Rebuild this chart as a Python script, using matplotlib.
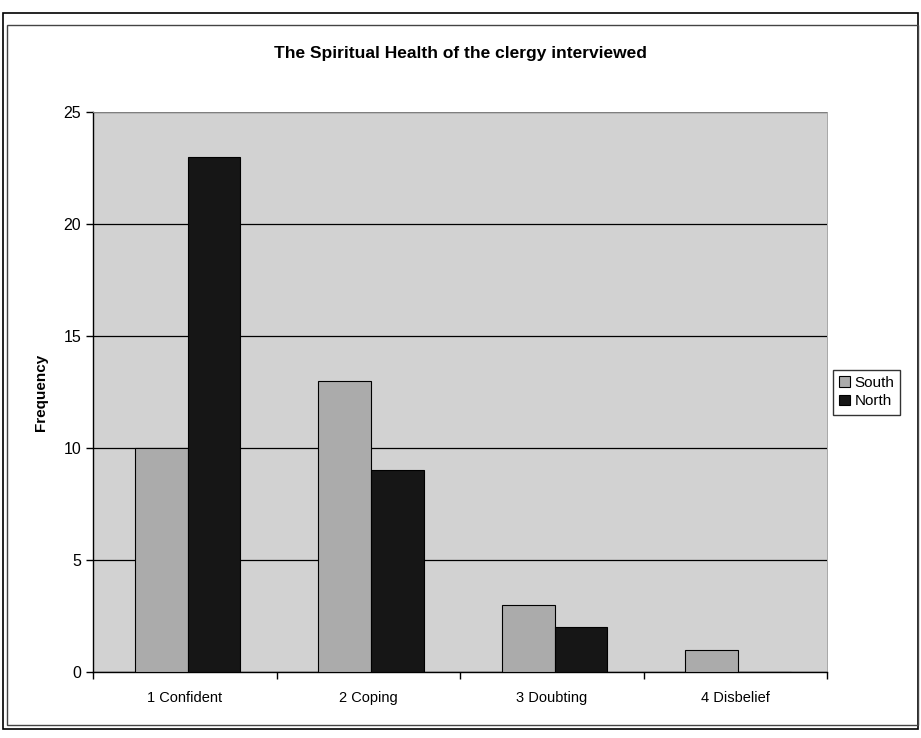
import numpy as np
import matplotlib.pyplot as plt
from matplotlib.patches import Rectangle

plt.rcParams['font.family'] = ['Liberation Sans', 'DejaVu Sans']

categories = ['1 Confident', '2 Coping', '3 Doubting', '4 Disbelief']
south = [10, 13, 3, 1]
north = [23, 9, 2, 0]
yticks = [0, 5, 10, 15, 20, 25]

fig = plt.figure(figsize=(9.21, 7.38), dpi=100)
fig.patch.set_facecolor('white')

# double frame round the picture, as in the scanned page
fig.patches.append(Rectangle((0.003, 0.012), 0.994, 0.97, transform=fig.transFigure,
                             fill=False, ec='black', lw=1.2))
fig.patches.append(Rectangle((0.008, 0.018), 0.989, 0.948, transform=fig.transFigure,
                             fill=False, ec='#444444', lw=1.0))

ax = fig.add_axes([0.101, 0.0894, 0.797, 0.7586])
ax.set_facecolor('#d2d2d2')

x = np.arange(len(categories))
w = 0.287
off = 0.015
ax.bar(x - w / 2 + off, south, w, color='#ababab', edgecolor='black', lw=0.8, label='South', zorder=3)
ax.bar(x + w / 2 + off, north, w, color='#161616', edgecolor='black', lw=0.8, label='North', zorder=3)

ax.set_xlim(-0.5, len(categories) - 0.5)
ax.set_ylim(0, 25)
ax.set_yticks(yticks)
ax.set_yticklabels([str(v) for v in yticks], fontsize=11.5)
ax.set_xticks(x)
ax.set_xticklabels(categories, fontsize=10.5)
ax.tick_params(axis='x', length=0, pad=14)
ax.tick_params(axis='y', length=5, width=1, direction='out')
# category boundary ticks
ax.set_xticks(np.arange(-0.5, len(categories) + 0.5, 1), minor=True)
ax.tick_params(axis='x', which='minor', length=5, width=1, direction='out')

ax.yaxis.grid(True, color='black', lw=0.9, zorder=1)
ax.set_axisbelow(True)
for s in ['top', 'right']:
    ax.spines[s].set_color('#999999')
    ax.spines[s].set_linewidth(0.6)
for s in ['left', 'bottom']:
    ax.spines[s].set_color('black')
    ax.spines[s].set_linewidth(1.0)

ax.set_ylabel('Frequency', fontsize=11, fontweight='bold', labelpad=11)
fig.suptitle('The Spiritual Health of the clergy interviewed', fontsize=12.5,
             fontweight='bold', x=0.5, y=0.937)

leg = ax.legend(loc='center left', bbox_to_anchor=(1.008, 0.5), fontsize=11,
                frameon=True, fancybox=False, edgecolor='black', handlelength=0.7,
                handleheight=0.7, handletextpad=0.3, borderpad=0.4, labelspacing=0.3,
                borderaxespad=0)
leg.get_frame().set_linewidth(1.0)

fig.savefig('out.png', dpi=100)
